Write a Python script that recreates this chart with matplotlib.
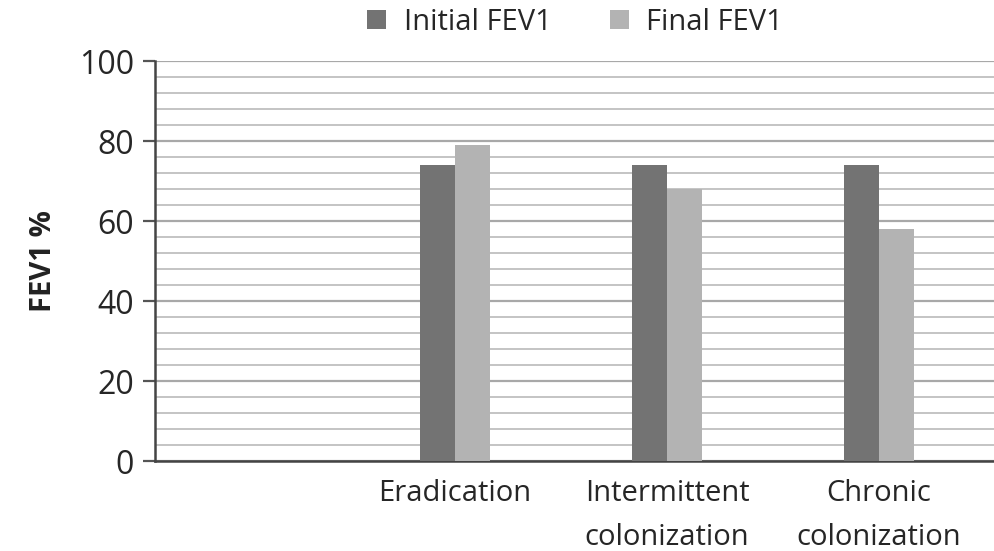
import matplotlib
matplotlib.use("Agg")
import matplotlib.pyplot as plt
import numpy as np
from matplotlib.ticker import MultipleLocator

plt.rcParams['font.family'] = ['Open Sans', 'DejaVu Sans']

categories = ["", "Eradication", "Intermittent\ncolonization", "Chronic\ncolonization"]
initial_fev1 = [np.nan, 74, 74, 74]
final_fev1 = [np.nan, 79, 68, 58]
series_names = ["Initial FEV1", "Final FEV1"]

dark = "#737373"
light = "#b3b3b3"

fig = plt.figure(figsize=(9.95, 5.51), dpi=100)
ax = fig.add_axes([155 / 995, 90 / 551, 840 / 995, 400 / 551])

x = np.arange(len(categories))
w = 0.163
ax.bar(x - w / 2, initial_fev1, width=w, color=dark, label=series_names[0], zorder=3)
ax.bar(x + w / 2, final_fev1, width=w, color=light, label=series_names[1], zorder=3)

ax.set_ylim(0, 100)
ax.set_xlim(-0.415, 3.547)
ax.yaxis.set_major_locator(MultipleLocator(20))
ax.yaxis.set_minor_locator(MultipleLocator(4))
ax.grid(axis='y', which='major', color="#a8a8a8", linewidth=1.6, zorder=0)
ax.grid(axis='y', which='minor', color="#c4c4c4", linewidth=1.4, zorder=0)
ax.set_axisbelow(True)

ax.set_xticks(x)
ax.set_xticklabels(categories, fontsize=21, color="#262626", linespacing=1.7, va='top')
ax.tick_params(axis='x', length=0, pad=13)
ax.tick_params(axis='y', which='major', length=9, width=1.6, color="#555555",
               labelsize=23, labelcolor="#262626", pad=6)
ax.tick_params(axis='y', which='minor', length=0)

for side in ('top', 'right'):
    ax.spines[side].set_visible(False)
for side in ('left', 'bottom'):
    ax.spines[side].set_color("#444444")
    ax.spines[side].set_linewidth(1.8)

ax.set_ylabel("FEV1 %", fontsize=21, fontweight='bold', color="#222222", labelpad=15)

ax.legend(loc='lower center', bbox_to_anchor=(0.5, 0.995), ncol=2, frameon=False,
          fontsize=21, handlelength=0.65, handleheight=0.65, columnspacing=2.0,
          handletextpad=0.6, labelcolor="#262626")

fig.savefig("out.png", dpi=100, facecolor="white")
